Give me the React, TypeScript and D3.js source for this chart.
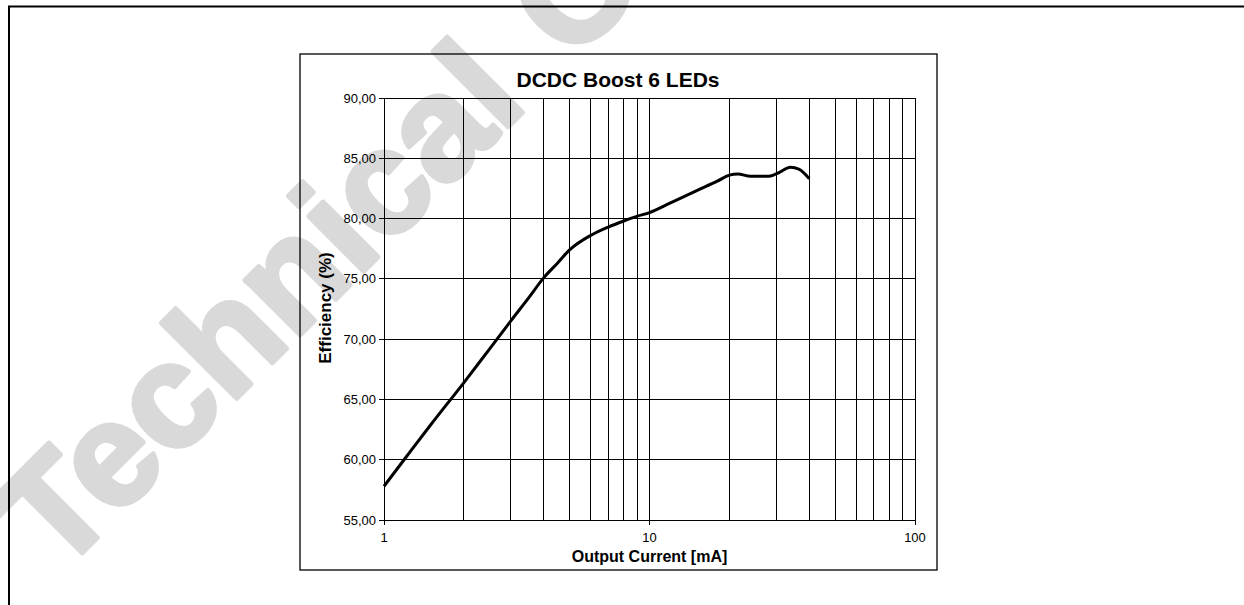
import * as d3 from "d3";
import React, { useEffect, useRef } from "react";

const current = [1, 1.2, 1.5, 2, 2.5, 3, 3.5, 4, 4.5, 5, 6, 7, 8, 9, 10, 12, 15, 18, 20, 21.5, 24, 28, 30, 34, 36.5, 40];
const efficiency = [57.8, 60.1, 62.9, 66.4, 69.2, 71.5, 73.4, 75.1, 76.3, 77.4, 78.6, 79.3, 79.8, 80.2, 80.5, 81.3, 82.3, 83.1, 83.6, 83.7, 83.5, 83.5, 83.7, 84.25, 84.1, 83.3];

const yTicks = [55, 60, 65, 70, 75, 80, 85, 90];
const xTicks = [1, 10, 100];
const xGrid = [2, 3, 4, 5, 6, 7, 8, 9, 10, 20, 30, 40, 50, 60, 70, 80, 90, 100];

const chartTitle = "DCDC Boost 6 LEDs";
const xTitle = "Output Current [mA]";
const yTitle = "Efficiency (%)";
const watermarkA = "Technical";
const watermarkB = "Content";

function App() {
  const ref = useRef<HTMLDivElement>(null);

  const width = 1244;
  const height = 605;
  const font = "Arial, 'Liberation Sans', sans-serif";

  useEffect(() => {
    draw();
  }, []);

  function draw() {
    d3.select(ref.current).selectAll("svg").remove();

    const svg = d3
      .select(ref.current)
      .append("svg")
      .attr("width", width)
      .attr("height", height)
      .style("display", "block");

    svg.append("rect").attr("width", width).attr("height", height).attr("fill", "#fff");

    // watermark sits behind everything
    const wm = svg
      .append("text")
      .attr("transform", "translate(58,577) rotate(-45)")
      .attr("font-family", font)
      .attr("font-weight", "bold")
      .attr("font-size", 147)
      .attr("fill", "#d9d9d9")
      .attr("stroke", "#d9d9d9")
      .attr("stroke-width", 5)
      .attr("stroke-linejoin", "round");
    wm.append("tspan").text(watermarkA);
    wm.append("tspan").attr("dx", 58).text(watermarkB);

    // page frame (top + left only)
    svg
      .append("path")
      .attr("d", `M9,${height} L9,6.5 L${width},6.5`)
      .attr("fill", "none")
      .attr("stroke", "#000")
      .attr("stroke-width", 2);

    // chart frame
    svg
      .append("rect")
      .attr("x", 300)
      .attr("y", 54)
      .attr("width", 637)
      .attr("height", 516)
      .attr("fill", "none")
      .attr("stroke", "#000")
      .attr("stroke-width", 1.3);

    const left = 384;
    const right = 915;
    const top = 98;
    const bottom = 520;

    const x = d3.scaleLog().domain([1, 100]).range([left, right]);
    const y = d3.scaleLinear().domain([55, 90]).range([bottom, top]);

    const grid = svg.append("g").attr("stroke", "#000").attr("stroke-width", 1).attr("shape-rendering", "crispEdges");

    grid
      .selectAll("line.v")
      .data(xGrid)
      .enter()
      .append("line")
      .attr("class", "v")
      .attr("x1", (d) => x(d))
      .attr("x2", (d) => x(d))
      .attr("y1", top)
      .attr("y2", bottom);

    grid
      .selectAll("line.h")
      .data(yTicks)
      .enter()
      .append("line")
      .attr("class", "h")
      .attr("x1", left - 5)
      .attr("x2", right)
      .attr("y1", (d) => y(d))
      .attr("y2", (d) => y(d));

    // y axis line
    grid.append("line").attr("x1", left).attr("x2", left).attr("y1", top).attr("y2", bottom);

    // x ticks below axis
    grid
      .selectAll("line.xt")
      .data(xTicks)
      .enter()
      .append("line")
      .attr("class", "xt")
      .attr("x1", (d) => x(d))
      .attr("x2", (d) => x(d))
      .attr("y1", bottom)
      .attr("y2", bottom + 5);

    svg
      .append("g")
      .selectAll("text")
      .data(yTicks)
      .enter()
      .append("text")
      .attr("x", left - 8)
      .attr("y", (d) => y(d) + 4.5)
      .attr("text-anchor", "end")
      .attr("font-family", font)
      .attr("font-size", 13)
      .attr("fill", "#000")
      .text((d) => d.toFixed(2).replace(".", ","));

    svg
      .append("g")
      .selectAll("text")
      .data(xTicks)
      .enter()
      .append("text")
      .attr("x", (d) => x(d))
      .attr("y", bottom + 22)
      .attr("text-anchor", "middle")
      .attr("font-family", font)
      .attr("font-size", 13)
      .attr("fill", "#000")
      .text((d) => d);

    const line = d3
      .line<number>()
      .x((d, i) => x(current[i]))
      .y((d) => y(d))
      .curve(d3.curveMonotoneX);

    svg
      .append("path")
      .datum(efficiency)
      .attr("d", line)
      .attr("fill", "none")
      .attr("stroke", "#000")
      .attr("stroke-width", 3)
      .attr("stroke-linejoin", "round");

    svg
      .append("text")
      .attr("x", 618)
      .attr("y", 87)
      .attr("text-anchor", "middle")
      .attr("font-family", font)
      .attr("font-weight", "bold")
      .attr("font-size", 21)
      .text(chartTitle);

    svg
      .append("text")
      .attr("x", (left + right) / 2)
      .attr("y", 562)
      .attr("text-anchor", "middle")
      .attr("font-family", font)
      .attr("font-weight", "bold")
      .attr("font-size", 16)
      .text(xTitle);

    svg
      .append("text")
      .attr("transform", "translate(331,308) rotate(-90)")
      .attr("text-anchor", "middle")
      .attr("font-family", font)
      .attr("font-weight", "bold")
      .attr("font-size", 17)
      .text(yTitle);
  }

  return <div ref={ref} style={{ position: "absolute", left: 0, top: 0 }} />;
}

export default App;
